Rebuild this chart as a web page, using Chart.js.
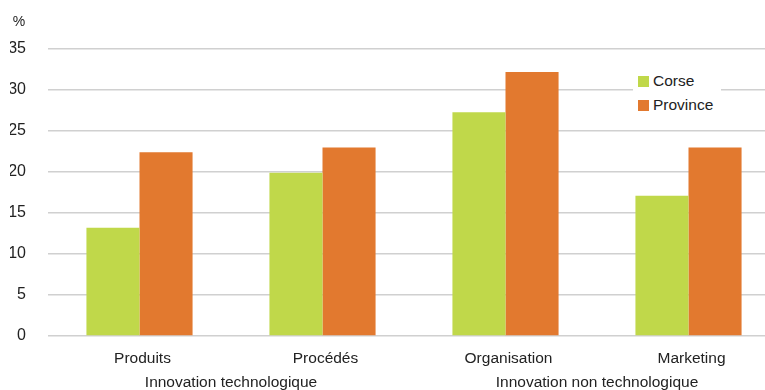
<!DOCTYPE html>
<html>
<head>
<meta charset="utf-8">
<script src="https://cdn.jsdelivr.net/npm/chart.js"></script>
<style>
  body { margin:0; overflow:hidden; background:#fff; font-family:"Liberation Sans", Arial, sans-serif; }
  #wrap { position:relative; width:780px; height:390px; }
  #legend { position:absolute; left:633px; top:67px; background:#fff; padding:2px 8px 2px 5px; font-size:15.5px; color:#222; }
  #legend div { display:flex; align-items:center; height:24px; }
  #legend span { display:inline-block; width:11px; height:11px; margin-right:4px; }
</style>
</head>
<body>
<div id="wrap">
  <canvas id="c" width="780" height="390"></canvas>
  <div id="legend"></div>
</div>
<script>
const categories = ['Produits', 'Procédés', 'Organisation', 'Marketing'];
const groups = ['Innovation technologique', 'Innovation non technologique'];
const corse = [13.2, 19.9, 27.3, 17.1];
const province = [22.4, 23.0, 32.2, 23.0];
const yTicks = [0, 5, 10, 15, 20, 25, 30, 35];

const GREEN = '#c0d84a', ORANGE = '#e2792f';
const FONT = { family: '"Liberation Sans", Arial, sans-serif', size: 15.5 };

// "%" unit above the y axis
const unitLabel = {
  id: 'unitLabel',
  afterDraw(chart) {
    const ctx = chart.ctx;
    ctx.save();
    ctx.font = '14px "Liberation Sans", Arial, sans-serif';
    ctx.fillStyle = '#222';
    ctx.textAlign = 'center';
    ctx.fillText('%', 19, 26);
    ctx.restore();
  }
};

const chart = new Chart(document.getElementById('c'), {
  type: 'bar',
  data: {
    labels: categories,
    datasets: [
      { label: 'Corse', data: corse, backgroundColor: GREEN, xAxisID: 'x' },
      { label: 'Province', data: province, backgroundColor: ORANGE, xAxisID: 'x' }
    ]
  },
  options: {
    responsive: false,
    animation: false,
    layout: { padding: { top: 49, left: 10, right: 0, bottom: 0 } },
    datasets: { bar: { categoryPercentage: 0.58, barPercentage: 1 } },
    plugins: { legend: { display: false }, tooltip: { enabled: false } },
    scales: {
      x: {
        grid: { display: false, drawTicks: false },
        border: { display: false },
        ticks: { color: '#222', font: FONT, padding: 13, maxRotation: 0, labelOffset: 3 },
        afterFit: s => { s.height = 34; }
      },
      x2: {
        type: 'category',
        labels: groups,
        position: 'bottom',
        weight: 1,
        grid: { display: false, drawTicks: false },
        border: { display: false },
        ticks: { color: '#222', font: FONT, padding: 3, maxRotation: 0 },
        afterFit: s => { s.height = 20; }
      },
      y: {
        min: 0, max: 35,
        afterBuildTicks: s => { s.ticks = yTicks.map(v => ({ value: v })); },
        grid: { color: '#d0d0d0', lineWidth: 1.5, drawTicks: false },
        border: { display: false },
        ticks: { color: '#222', font: { ...FONT, size: 16 }, padding: 22 },
        afterFit: s => { s.width = 38; }
      }
    }
  },
  plugins: [unitLabel]
});

document.getElementById('legend').innerHTML = chart.data.datasets.map(d =>
  `<div><span style="background:${d.backgroundColor}"></span>${d.label}</div>`).join('');
</script>
</body>
</html>
